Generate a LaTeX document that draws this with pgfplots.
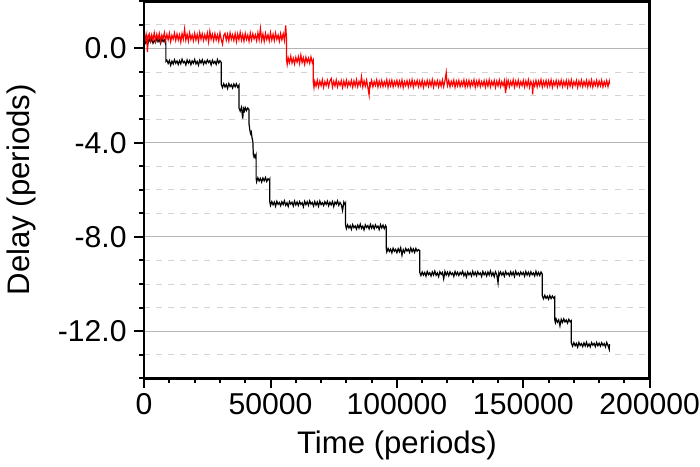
\documentclass[border=0pt]{standalone}
\usepackage{pgfplots}
\pgfplotsset{compat=1.18}
\usepackage{fontspec}
\setmainfont{Liberation Sans}
\definecolor{majgrid}{RGB}{180,180,180}
\definecolor{mingrid}{RGB}{212,212,212}
\begin{document}
\begin{tikzpicture}
\begin{axis}[
  name=ax,
  scale only axis,
  width=251.5pt, height=187.5pt,
  xmin=0, xmax=200000, ymin=-14, ymax=2,
  axis line style={black, line width=1.3pt},
  xtick={0,50000,100000,150000,200000},
  xticklabels={0,50000,100000,150000,200000},
  minor xtick={10000,20000,30000,40000,60000,70000,80000,90000,110000,120000,130000,140000,160000,170000,180000,190000},
  ytick={-12,-8,-4,0},
  yticklabels={-12.0,-8.0,-4.0,0.0},
  minor ytick={-14,-13,-11,-10,-9,-7,-6,-5,-3,-2,-1,1,2},
  scaled x ticks=false,
  tick pos=left,
  tick align=outside,
  major tick length=5pt, minor tick length=2.5pt,
  tick style={black, line width=1pt},
  ymajorgrids, yminorgrids,
  major grid style={majgrid, line width=0.6pt},
  minor grid style={mingrid, dashed, line width=0.4pt},
  tick label style={font=\fontsize{15}{18}\selectfont, inner sep=0pt},
  yticklabel shift=3.5pt,
  xticklabel shift=2.5pt,
  label style={font=\fontsize{15.5}{18}\selectfont},
  xlabel shift=4.5pt,
  ylabel shift=7.5pt,
  xlabel={Time (periods)},
  ylabel={Delay (periods)},
  clip=false,
]
\addplot[black, line width=0.6pt] coordinates {
(0,0.39)(500,0.23)(1000,0.36)(1500,0.20)(2000,0.42)(2500,0.27)(3000,0.40)(3500,0.22)(4000,0.34)(4500,0.25)(5000,0.44)(5500,0.28)(6000,0.38)(6500,0.21)(7000,0.41)(7500,0.29)(8000,0.37)(8500,0.19)(8600,0.30)
(8600,-0.55)(9000,-0.50)(9500,-0.64)(10000,-0.51)(10500,-0.72)(11000,-0.54)(11500,-0.66)(12000,-0.48)(12500,-0.63)(13000,-0.53)(13500,-0.68)(14000,-0.52)(14500,-0.65)(15000,-0.46)(15500,-0.61)(16000,-0.55)(16500,-0.70)(17000,-0.49)(17500,-0.62)(18000,-0.51)(18500,-0.69)(19000,-0.53)(19500,-0.63)(20000,-0.47)(20500,-0.66)(21000,-0.55)(21500,-0.71)(22000,-0.50)(22500,-0.62)(23000,-0.48)(23500,-0.67)(24000,-0.54)(24500,-0.64)(25000,-0.49)(25500,-0.60)(26000,-0.52)(26500,-0.70)(27000,-0.50)(27500,-0.63)(28000,-0.55)(28500,-0.68)(29000,-0.47)(29500,-0.62)(30000,-0.52)(30500,-0.60)
(30500,-1.52)(31000,-1.66)(31500,-1.50)(32000,-1.64)(32500,-1.53)(33000,-1.70)(33500,-1.49)(34000,-1.62)(34500,-1.54)(35000,-1.68)(35500,-1.51)(36000,-1.63)(36500,-1.50)(37000,-1.65)(37500,-1.56)
(37500,-2.52)(38000,-2.66)(38500,-2.50)(39000,-2.98)(39300,-2.55)(39700,-2.66)(40000,-2.51)(40500,-2.64)(41000,-2.53)(41500,-2.60)
(41500,-3.20)(41800,-3.45)(42100,-3.62)(42400,-3.55)(42700,-3.80)(43000,-3.95)(43200,-4.50)(43500,-4.62)(43800,-4.52)(44100,-4.63)(44300,-4.55)
(44300,-5.50)(44500,-5.66)(45000,-5.49)(45500,-5.63)(46000,-5.52)(46500,-5.67)(47000,-5.50)(47500,-5.62)(48000,-5.48)(48500,-5.65)(49000,-5.53)(49500,-5.60)(49700,-5.55)
(49700,-6.50)(50000,-6.66)(50500,-6.50)(51000,-6.64)(51500,-6.52)(52000,-6.70)(52500,-6.49)(53000,-6.62)(53500,-6.54)(54000,-6.68)(54500,-6.51)(55000,-6.63)(55500,-6.47)(56000,-6.66)(56500,-6.55)(57000,-6.71)(57500,-6.50)(58000,-6.61)(58500,-6.53)(59000,-6.69)(59500,-6.48)(60000,-6.64)(60500,-6.52)(61000,-6.67)(61500,-6.50)(62000,-6.62)(62500,-6.55)(63000,-6.72)(63500,-6.49)(64000,-6.63)(64500,-6.51)(65000,-6.66)(65500,-6.47)(66000,-6.61)(66500,-6.54)(67000,-6.69)(67500,-6.50)(68000,-6.65)(68500,-6.52)(69000,-6.70)(69500,-6.48)(70000,-6.63)(70500,-6.55)(71000,-6.67)(71500,-6.51)(72000,-6.62)(72500,-6.49)(73000,-6.68)(73500,-6.53)(74000,-6.64)(74500,-6.50)(75000,-6.71)(75500,-6.52)(76000,-6.61)(76500,-6.47)(77000,-6.66)(77500,-6.54)(78000,-6.63)(78500,-6.88)(79000,-6.52)(79500,-6.64)(79700,-6.58)
(79700,-7.50)(80000,-7.65)(80500,-7.49)(81000,-7.62)(81500,-7.52)(82000,-7.68)(82500,-7.48)(83000,-7.61)(83500,-7.53)(84000,-7.67)(84500,-7.50)(85000,-7.63)(85500,-7.46)(86000,-7.64)(86500,-7.54)(87000,-7.70)(87500,-7.49)(88000,-7.60)(88500,-7.52)(89000,-7.66)(89500,-7.47)(90000,-7.63)(90500,-7.51)(91000,-7.66)(91500,-7.49)(92000,-7.61)(92500,-7.54)(93000,-7.69)(93500,-7.48)(94000,-7.62)(94500,-7.50)(95000,-7.65)(95500,-7.52)(95800,-7.58)
(95800,-8.50)(96000,-8.64)(96500,-8.49)(97000,-8.62)(97500,-8.52)(98000,-8.68)(98500,-8.48)(99000,-8.61)(99500,-8.53)(100000,-8.67)(100500,-8.50)(101000,-8.63)(101500,-8.46)(102000,-8.78)(102500,-8.54)(103000,-8.66)(103500,-8.49)(104000,-8.60)(104500,-8.52)(105000,-8.66)(105500,-8.47)(106000,-8.63)(106500,-8.51)(107000,-8.66)(107500,-8.49)(108000,-8.61)(108500,-8.54)(109000,-8.58)
(109000,-9.50)(109500,-9.64)(110000,-9.49)(110500,-9.62)(111000,-9.51)(111500,-9.67)(112000,-9.47)(112500,-9.60)(113000,-9.52)(113500,-9.66)(114000,-9.49)(114500,-9.62)(115000,-9.45)(115500,-9.63)(116000,-9.53)(116500,-9.69)(117000,-9.48)(117500,-9.59)(118000,-9.51)(118500,-9.78)(119000,-9.46)(119500,-9.62)(120000,-9.50)(120500,-9.65)(121000,-9.48)(121500,-9.60)(122000,-9.53)(122500,-9.68)(123000,-9.47)(123500,-9.61)(124000,-9.50)(124500,-9.64)(125000,-9.51)(125500,-9.59)(126000,-9.46)(126500,-9.65)(127000,-9.53)(127500,-9.70)(128000,-9.49)(128500,-9.61)(129000,-9.52)(129500,-9.66)(130000,-9.46)(130500,-9.62)(131000,-9.50)(131500,-9.65)(132000,-9.48)(132500,-9.60)(133000,-9.53)(133500,-9.68)(134000,-9.47)(134500,-9.61)(135000,-9.51)(135500,-9.66)(136000,-9.49)(136500,-9.62)(137000,-9.45)(137500,-9.64)(138000,-9.52)(138500,-9.69)(139000,-9.48)(139500,-9.60)(140000,-9.95)(140300,-9.55)(140500,-9.63)(141000,-9.49)(141500,-9.62)(142000,-9.51)(142500,-9.67)(143000,-9.47)(143500,-9.60)(144000,-9.53)(144500,-9.65)(145000,-9.48)(145500,-9.62)(146000,-9.50)(146500,-9.68)(147000,-9.46)(147500,-9.61)(148000,-9.52)(148500,-9.64)(149000,-9.49)(149500,-9.60)(150000,-9.51)(150500,-9.67)(151000,-9.47)(151500,-9.62)(152000,-9.50)(152500,-9.65)(153000,-9.48)(153500,-9.61)(154000,-9.53)(154500,-9.66)(155000,-9.46)(155500,-9.63)(156000,-9.51)(156500,-9.64)(157000,-9.49)(157500,-9.58)
(157500,-10.50)(158000,-10.63)(158500,-10.48)(159000,-10.61)(159500,-10.52)(160000,-10.65)(160500,-10.49)(161000,-10.62)(161500,-10.51)(162000,-10.60)(162400,-10.55)
(162400,-11.50)(162700,-11.64)(163000,-11.49)(163500,-11.62)(164000,-11.52)(164500,-11.78)(165000,-11.50)(165500,-11.63)(166000,-11.48)(166500,-11.61)(167000,-11.53)(167500,-11.66)(168000,-11.50)(168500,-11.60)(169000,-11.55)
(169000,-12.50)(169500,-12.64)(170000,-12.49)(170500,-12.62)(171000,-12.52)(171500,-12.68)(172000,-12.48)(172500,-12.61)(173000,-12.53)(173500,-12.66)(174000,-12.50)(174500,-12.63)(175000,-12.47)(175500,-12.65)(176000,-12.54)(176500,-12.67)(177000,-12.49)(177500,-12.60)(178000,-12.52)(178500,-12.66)(179000,-12.48)(179500,-12.62)(180000,-12.51)(180500,-12.64)(181000,-12.49)(181500,-12.61)(182000,-12.53)(182500,-12.67)(183000,-12.48)(183500,-12.62)(184000,-12.78)(184100,-12.55)
};
\addplot[red, line width=0.6pt] coordinates {
(0,0.42)(300,0.60)(700,0.35)(1000,0.55)(1300,-0.15)(1600,0.50)(2000,0.62)(2500,0.33)(3000,0.58)(3500,0.36)(4000,0.66)(4500,0.32)(5000,0.60)(5500,0.38)(6000,0.63)(6500,0.30)(7000,0.57)(7500,0.41)(8000,0.67)(8500,0.33)(9000,0.59)(9500,0.37)(10000,0.64)(10500,0.29)(11000,0.56)(11500,0.40)(12000,0.65)(12500,0.34)(13000,0.61)(13500,0.36)(14000,0.58)(14500,0.27)(15000,0.63)(15500,0.39)(16000,0.82)(16500,0.35)(17000,0.60)(17500,0.31)(18000,0.66)(18500,0.38)(19000,0.57)(19500,0.33)(20000,0.64)(20500,0.36)(21000,0.59)(21500,0.30)(22000,0.67)(22500,0.40)(23000,0.62)(23500,0.34)(24000,0.58)(24500,0.37)(25000,0.65)(25500,0.28)(26000,0.72)(26500,0.39)(27000,0.60)(27500,0.33)(28000,0.63)(28500,0.36)(29000,0.57)(29500,0.31)(30000,0.66)(30500,0.38)(31000,0.18)(31500,0.55)(32000,0.64)(32500,0.35)(33000,0.60)(33500,0.32)(34000,0.66)(34500,0.39)(35000,0.58)(35500,0.34)(36000,0.63)(36500,0.29)(37000,0.61)(37500,0.37)(38000,0.68)(38500,0.35)(39000,0.59)(39500,0.31)(40000,0.64)(40500,0.38)(41000,0.57)(41500,0.30)(42000,0.65)(42500,0.36)(43000,0.62)(43500,0.40)(44000,0.58)(44500,0.33)(45000,0.66)(45500,0.37)(46000,0.85)(46500,0.34)(47000,0.61)(47500,0.30)(48000,0.64)(48500,0.38)(49000,0.58)(49500,0.32)(50000,0.67)(50500,0.36)(51000,0.60)(51500,0.33)(52000,0.65)(52500,0.39)(53000,0.57)(53500,0.31)(54000,0.63)(54500,0.37)(55000,0.62)(55500,0.34)(56000,0.98)(56300,0.45)
(56300,-0.45)(56600,-0.68)(57000,-0.40)(57500,-0.60)(58000,-0.33)(58500,-0.62)(59000,-0.42)(59500,-0.66)(60000,-0.38)(60500,-0.58)(61000,-0.35)(61500,-0.64)(62000,-0.28)(62500,-0.60)(63000,-0.40)(63500,-0.67)(64000,-0.37)(64500,-0.59)(65000,-0.41)(65500,-0.63)(66000,-0.36)(66500,-0.60)(66900,-0.50)
(66900,-1.42)(67200,-1.66)(67500,-1.40)(68000,-1.60)(68500,-1.35)(69000,-1.63)(69500,-1.39)(70000,-1.58)(70500,-1.33)(71000,-1.65)(71500,-1.41)(72000,-1.57)(72500,-1.36)(73000,-1.62)(73500,-1.38)(74000,-1.28)(74500,-1.64)(75000,-1.40)(75500,-1.59)(76000,-1.34)(76500,-1.63)(77000,-1.42)(77500,-1.57)(78000,-1.37)(78500,-1.66)(79000,-1.39)(79500,-1.60)(80000,-1.35)(80500,-1.62)(81000,-1.41)(81500,-1.58)(82000,-1.36)(82500,-1.64)(83000,-1.38)(83500,-1.59)(84000,-1.33)(84500,-1.62)(85000,-1.40)(85500,-1.57)(86000,-1.20)(86500,-1.63)(87000,-1.38)(87500,-1.60)(88000,-1.35)(88500,-1.65)(89000,-1.98)(89300,-1.42)(89500,-1.58)(90000,-1.36)(90500,-1.63)(91000,-1.40)(91500,-1.57)(92000,-1.34)(92500,-1.64)(93000,-1.39)(93500,-1.60)(94000,-1.36)(94500,-1.62)(95000,-1.41)(95500,-1.58)(96000,-1.33)(96500,-1.65)(97000,-1.38)(97500,-1.59)(98000,-1.35)(98500,-1.63)(99000,-1.40)(99500,-1.57)(100000,-1.36)(100500,-1.62)(101000,-1.39)(101500,-1.60)(102000,-1.34)(102500,-1.66)(103000,-1.41)(103500,-1.58)(104000,-1.37)(104500,-1.63)(105000,-1.38)(105500,-1.59)(106000,-1.33)(106500,-1.64)(107000,-1.40)(107500,-1.57)(108000,-1.36)(108500,-1.62)(109000,-1.39)(109500,-1.60)(110000,-1.35)(110500,-1.65)(111000,-1.41)(111500,-1.58)(112000,-1.36)(112500,-1.61)(113000,-1.38)(113500,-1.59)(114000,-1.33)(114500,-1.64)(115000,-1.40)(115500,-1.57)(116000,-1.37)(116500,-1.63)(117000,-1.39)(117500,-1.60)(118000,-1.34)(118500,-1.62)(119000,-1.38)(119500,-1.02)(119800,-1.45)(120000,-1.58)(120500,-1.36)(121000,-1.63)(121500,-1.40)(122000,-1.57)(122500,-1.35)(123000,-1.65)(123500,-1.39)(124000,-1.59)(124500,-1.36)(125000,-1.62)(125500,-1.41)(126000,-1.58)(126500,-1.34)(127000,-1.64)(127500,-1.38)(128000,-1.60)(128500,-1.36)(129000,-1.63)(129500,-1.40)(130000,-1.57)(130500,-1.33)(131000,-1.65)(131500,-1.39)(132000,-1.59)(132500,-1.35)(133000,-1.62)(133500,-1.41)(134000,-1.58)(134500,-1.37)(135000,-1.64)(135500,-1.38)(136000,-1.60)(136500,-1.34)(137000,-1.63)(137500,-1.40)(138000,-1.57)(138500,-1.36)(139000,-1.65)(139500,-1.39)(140000,-1.59)(140500,-1.35)(141000,-1.62)(141500,-1.41)(142000,-1.58)(142500,-1.37)(143000,-1.90)(143300,-1.44)(143500,-1.60)(144000,-1.36)(144500,-1.63)(145000,-1.40)(145500,-1.57)(146000,-1.34)(146500,-1.64)(147000,-1.39)(147500,-1.59)(148000,-1.35)(148500,-1.62)(149000,-1.41)(149500,-1.58)(150000,-1.36)(150500,-1.63)(151000,-1.38)(151500,-1.60)(152000,-1.34)(152500,-1.65)(153000,-1.40)(153500,-1.57)(153700,-1.95)(154000,-1.42)(154500,-1.60)(155000,-1.36)(155500,-1.63)(156000,-1.39)(156500,-1.58)(157000,-1.33)(157500,-1.64)(158000,-1.40)(158500,-1.59)(159000,-1.36)(159500,-1.62)(160000,-1.38)(160500,-1.60)(161000,-1.34)(161500,-1.65)(162000,-1.41)(162500,-1.57)(163000,-1.36)(163500,-1.63)(164000,-1.39)(164500,-1.58)(165000,-1.35)(165500,-1.62)(166000,-1.40)(166500,-1.59)(167000,-1.36)(167500,-1.64)(168000,-1.38)(168500,-1.60)(169000,-1.34)(169500,-1.63)(170000,-1.41)(170500,-1.57)(171000,-1.36)(171500,-1.65)(172000,-1.39)(172500,-1.59)(173000,-1.35)(173500,-1.62)(174000,-1.40)(174500,-1.58)(175000,-1.36)(175500,-1.63)(176000,-1.38)(176500,-1.60)(177000,-1.34)(177500,-1.64)(178000,-1.40)(178500,-1.57)(179000,-1.36)(179500,-1.62)(180000,-1.39)(180500,-1.59)(181000,-1.35)(181500,-1.63)(182000,-1.41)(182500,-1.58)(183000,-1.37)(183500,-1.62)(184000,-1.40)(184100,-1.52)
};
\end{axis}
\draw[black, line width=1.3pt] (ax.south west) rectangle (ax.north east);
\end{tikzpicture}
\end{document}
